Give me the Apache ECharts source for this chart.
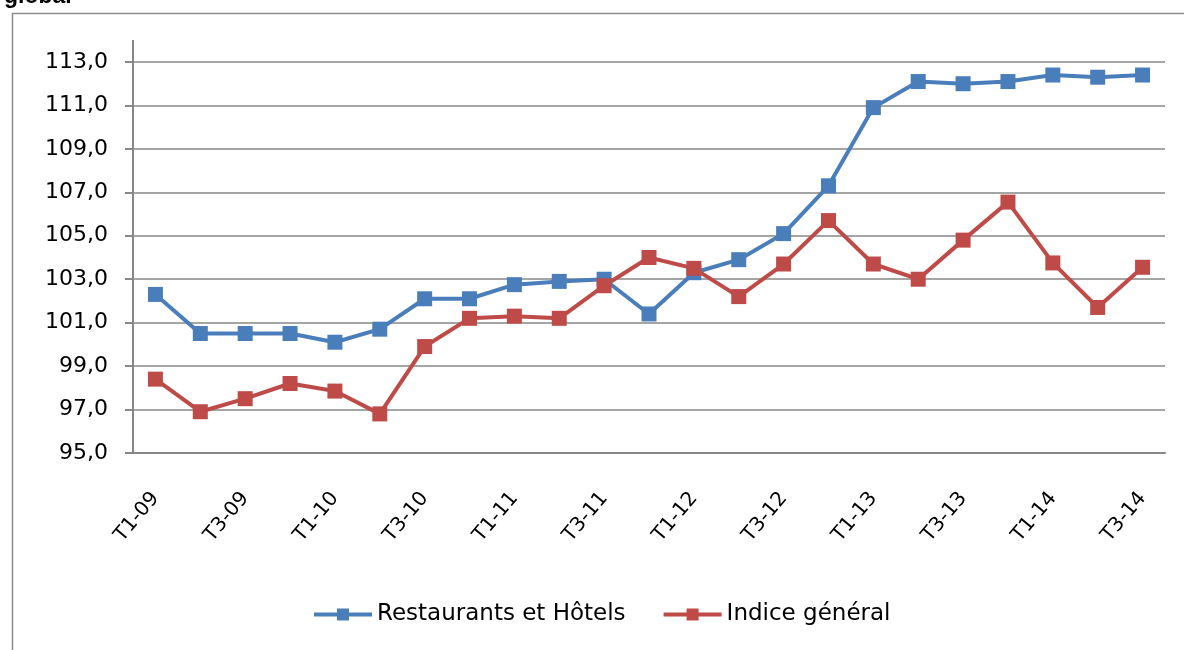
<!DOCTYPE html>
<html>
<head>
<meta charset="utf-8">
<script src="https://cdn.jsdelivr.net/npm/echarts@6/dist/echarts.min.js"></script>
<style>
  html, body { margin: 0; padding: 0; background: #fff; }
  #chart { width: 1184px; height: 650px; }
</style>
</head>
<body>
<div id="chart"></div>
<script>
// trimestres T1-09 .. T3-14
var categories = ['T1-09','T2-09','T3-09','T4-09','T1-10','T2-10','T3-10','T4-10',
                  'T1-11','T2-11','T3-11','T4-11','T1-12','T2-12','T3-12','T4-12',
                  'T1-13','T2-13','T3-13','T4-13','T1-14','T2-14','T3-14']

var restaurants = [102.3, 100.5, 100.5, 100.5, 100.1, 100.7, 102.1, 102.1,
                   102.75, 102.9, 103.0, 101.4, 103.3, 103.9, 105.1, 107.3,
                   110.9, 112.1, 112.0, 112.1, 112.4, 112.3, 112.4]

var indiceGeneral = [98.4, 96.9, 97.5, 98.2, 97.85, 96.8, 99.9, 101.2,
                     101.3, 101.2, 102.7, 104.0, 103.5, 102.2, 103.7, 105.7,
                     103.7, 103.0, 104.8, 106.55, 103.75, 101.7, 103.55]

var yMin = 95, yMax = 113, yStep = 2

var fontFam = '"DejaVu Sans", sans-serif'
var gridCol = '#878787'

var myChart = echarts.init(document.getElementById('chart'))

var option = {
    animation: false,
    title: {
        text: 'global',
        left: 4,
        top: -15,
        padding: 0,
        textStyle: { fontFamily: '"Liberation Sans", Arial', fontWeight: 'bold', fontSize: 23, color: '#000' }
    },
    graphic: [
        // cadre du graphique
        { type: 'rect', left: 10, top: 11, shape: { width: 1250, height: 700 },
          style: { fill: 'none', stroke: '#8c8c8c', lineWidth: 1.5 }, silent: true },
        // prolongement de l'axe vertical au-dessus de 113
        { type: 'line', shape: { x1: 133, y1: 40, x2: 133, y2: 62 },
          style: { stroke: gridCol, lineWidth: 2 }, silent: true }
    ],
    grid: { left: 133, right: 19, top: 62, bottom: 197 },
    legend: {
        top: 603,
        left: 312,
        padding: 0,
        itemWidth: 58,
        itemHeight: 15,
        itemGap: 36,
        lineStyle: { width: 4 },
        textStyle: { fontFamily: fontFam, fontSize: 23, color: '#000' },
        data: ['Restaurants et Hôtels', 'Indice général']
    },
    xAxis: {
        type: 'category',
        data: categories,
        boundaryGap: true,
        axisLine: { lineStyle: { color: gridCol, width: 2 } },
        axisTick: { interval: 0, length: 7, lineStyle: { color: gridCol, width: 2 } },
        axisLabel: {
            interval: 1,
            rotate: 50,
            margin: 42,
            fontFamily: fontFam,
            fontSize: 20,
            color: '#000'
        }
    },
    yAxis: {
        type: 'value',
        min: yMin,
        max: yMax,
        interval: yStep,
        axisLine: { show: true, lineStyle: { color: gridCol, width: 2 } },
        axisTick: { show: true, length: 8, lineStyle: { color: gridCol, width: 2 } },
        splitLine: { lineStyle: { color: gridCol, width: 1.5 } },
        axisLabel: {
            margin: 25,
            fontFamily: fontFam,
            fontSize: 22,
            color: '#000',
            formatter: function (v) { return v.toFixed(1).replace('.', ',') }
        }
    },
    series: [
        {
            name: 'Restaurants et Hôtels',
            type: 'line',
            data: restaurants,
            symbol: 'rect',
            symbolSize: 15,
            color: '#4A7EBB',
            lineStyle: { width: 4, color: '#4A7EBB' },
            itemStyle: { color: '#4A7EBB' }
        },
        {
            name: 'Indice général',
            type: 'line',
            data: indiceGeneral,
            symbol: 'rect',
            symbolSize: 15,
            color: '#BE4B48',
            lineStyle: { width: 4, color: '#BE4B48' },
            itemStyle: { color: '#BE4B48' }
        }
    ]
}

myChart.setOption(option)
</script>
</body>
</html>
